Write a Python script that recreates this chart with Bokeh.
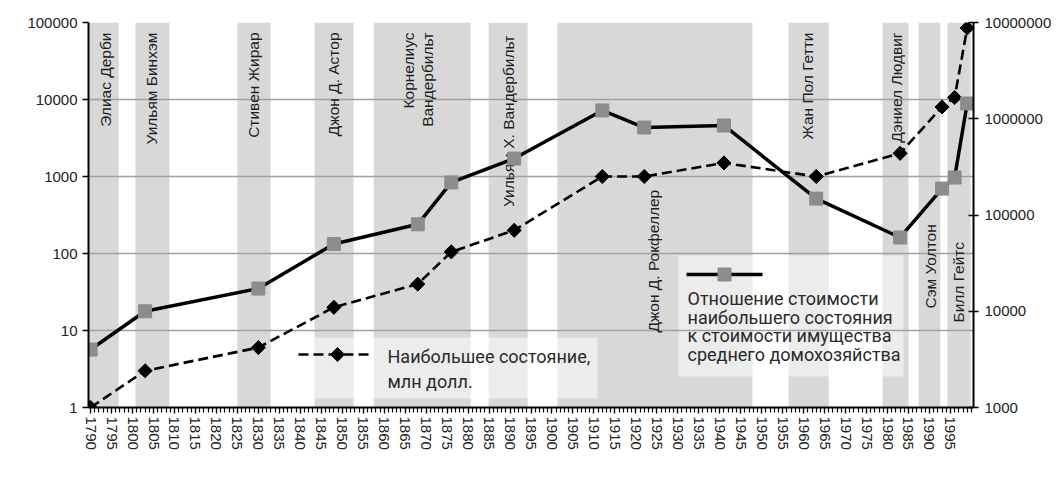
import math
from bokeh.plotting import figure
from bokeh.models import Range1d, LogScale, LogAxis, FixedTicker, PrintfTickFormatter
from bokeh.core.properties import value
from bokeh.embed import file_html
from bokeh.resources import INLINE

# ---------------- data ----------------
years = [1790, 1803, 1830, 1848, 1868, 1876, 1891, 1912, 1922, 1941, 1963, 1983, 1993, 1996, 1999]
# largest fortune, million dollars (left axis)
richest_wealth = [1, 3, 6, 20, 40, 105, 200, 1000, 1000, 1500, 1000, 2000, 8000, 10600, 85000]
# ratio of largest fortune to median household wealth (right axis)
wealth_ratio = [4000, 10000, 17200, 50000, 80000, 218000, 386000, 1220000, 811000, 851000,
                148000, 58400, 188000, 245000, 1440000]

# periods shaded in grey (years)
band_start = [1789.5, 1800.7, 1825.0, 1843.4, 1857.5, 1884.9, 1901.3, 1956.4, 1978.8, 1987.4, 1994.3]
band_end = [1796.7, 1808.8, 1832.9, 1852.7, 1880.6, 1894.2, 1947.8, 1966.0, 1985.0, 1992.6, 1999.8]

names = ["Элиас Дерби", "Уильям Бинхэм", "Стивен Жирар", "Джон Д. Астор", "Корнелиус",
         "Вандербильт", "Уильям Х. Вандербильт", "Джон Д. Рокфеллер", "Жан Пол Гетти",
         "Дэниел Людвиг", "Сэм Уолтон", "Билл Гейтс"]

x_ticks = list(range(1790, 2000, 5))
left_ticks = [1, 10, 100, 1000, 10000, 100000]
right_ticks = [1000, 10000, 100000, 1000000, 10000000]

legend_dashed = ["Наибольшее состояние,", "млн долл."]
legend_solid = ["Отношение стоимости", "наибольшего состояния", "к стоимости имущества",
                "среднего домохозяйства"]

# ---------------- layout helpers (pixel -> data) ----------------
W, H = 1054, 477
FL, FR, FT, FB = 88, 973, 22, 407
X0, X1 = 1789.5, 2000.5


def px_x(x):
    return X0 + (x - FL) * (X1 - X0) / (FR - FL)


def px_y(y):
    return 10 ** (5 * (FB - y) / (FB - FT))


# label placement (px), text anchored at top (right) or bottom (left)
name_px_x = [105, 151, 253, 333, 408, 427, 508, 653, 807, 896, 930, 958]
name_px_y = [32, 32, 32, 32, 32, 32, 35, 332, 32, 32, 308, 322]
name_align = ["right"] * 7 + ["left", "right", "right", "left", "left"]

p = figure(width=W, height=H, x_range=Range1d(X0, X1), y_range=Range1d(1, 100000),
           y_axis_type="log", output_backend="svg", toolbar_location=None,
           min_border_left=FL, min_border_right=W - FR,
           min_border_top=FT, min_border_bottom=H - FB)
p.outline_line_color = None
p.background_fill_color = "white"
p.border_fill_color = "white"

p.extra_y_ranges = {"r": Range1d(1000, 10000000)}
p.extra_y_scales = {"r": LogScale()}

# shaded bands
p.quad(left=band_start, right=band_end, bottom=1, top=100000,
       fill_color="#d8d8d8", line_color=None, level="image")

# legend boxes (semi-transparent white)
p.quad(left=[px_x(290), px_x(678)], right=[px_x(597), px_x(903)],
       bottom=[px_y(398), px_y(376)], top=[px_y(337), px_y(255)],
       fill_color="white", fill_alpha=0.5, line_color=None, level="image")

# grid
p.xgrid.visible = False
p.ygrid.grid_line_color = "#a0a0a0"
p.ygrid.grid_line_width = 1.5

# axes styling
TICK_FONT = value("Liberation Sans")
for ax in [p.xaxis[0], p.yaxis[0]]:
    ax.axis_line_color = "black"
    ax.axis_line_width = 2
    ax.major_tick_line_color = "black"
    ax.major_label_text_font = "Liberation Sans"
    ax.major_label_text_color = "#222222"

p.xaxis.ticker = FixedTicker(ticks=x_ticks, minor_ticks=list(range(1790, 2001)))
p.xaxis.major_label_orientation = "vertical"
p.xaxis.major_label_text_font_size = "15px"
p.xaxis.major_tick_in = 0
p.xaxis.major_tick_out = 6
p.xaxis.minor_tick_in = 0
p.xaxis.minor_tick_out = 5
p.xaxis.minor_tick_line_color = "black"
p.xaxis.major_tick_line_width = 1.2
p.xaxis.minor_tick_line_width = 1.2
p.xaxis.major_label_standoff = 3

p.yaxis.ticker = FixedTicker(ticks=left_ticks)
p.yaxis.formatter = PrintfTickFormatter(format="%d")
p.yaxis.major_label_text_font_size = "15px"
p.yaxis.minor_tick_line_color = None
p.yaxis.major_tick_in = 0
p.yaxis.major_tick_out = 6
p.yaxis.major_tick_line_width = 1.5
p.yaxis.major_label_standoff = 5

raxis = LogAxis(y_range_name="r", ticker=FixedTicker(ticks=right_ticks),
                formatter=PrintfTickFormatter(format="%d"))
raxis.axis_line_color = "black"
raxis.axis_line_width = 2
raxis.major_tick_line_color = "black"
raxis.major_tick_line_width = 1.5
raxis.major_tick_in = 5
raxis.major_tick_out = 5
raxis.minor_tick_line_color = None
raxis.major_label_text_font = "Liberation Sans"
raxis.major_label_text_font_size = "15px"
raxis.major_label_text_color = "#222222"
raxis.major_label_standoff = 6
p.add_layout(raxis, "right")

# names
p.text(x=[px_x(v) for v in name_px_x], y=[px_y(v) for v in name_px_y], text=names,
       angle=math.pi / 2, text_align=name_align, text_baseline="middle",
       text_font=TICK_FONT, text_font_size="15.5px", text_color="#1e1e1e")

# series: largest fortune (dashed, left axis)
p.line(years, richest_wealth, line_color="black", line_width=2.6, line_dash="10 5")
p.scatter(years, richest_wealth, marker="square", angle=math.pi / 4, size=10,
          fill_color="black", line_color="black")

# series: ratio (solid, right axis)
p.line(years, wealth_ratio, y_range_name="r", line_color="black", line_width=3.5)
p.scatter(years, wealth_ratio, y_range_name="r", marker="square", size=13,
          fill_color="#8c8c8c", line_color="#8c8c8c")

# legend 1 (dashed)
p.line([px_x(298), px_x(372)], [px_y(354)] * 2, line_color="black", line_width=2.6,
       line_dash="10 5")
p.scatter([px_x(337)], [px_y(354)], marker="square", angle=math.pi / 4, size=10,
          fill_color="black", line_color="black")
LEG_FONT = value("Roboto")
p.text(x=[px_x(387)] * 2, y=[px_y(356), px_y(381)], text=legend_dashed,
       text_align="left", text_baseline="middle", text_font=LEG_FONT,
       text_font_size="18px", text_color="#2a2a2a")

# legend 2 (solid)
p.line([px_x(686), px_x(762)], [px_y(274)] * 2, line_color="black", line_width=3.5)
p.scatter([px_x(724)], [px_y(274)], marker="square", size=13,
          fill_color="#8c8c8c", line_color="#8c8c8c")
p.text(x=[px_x(687)] * 4, y=[px_y(v) for v in [298, 317, 335, 354]], text=legend_solid,
       text_align="left", text_baseline="middle", text_font=LEG_FONT,
       text_font_size="18px", text_color="#2a2a2a")

open("out.html", "w").write(file_html(p, INLINE))
